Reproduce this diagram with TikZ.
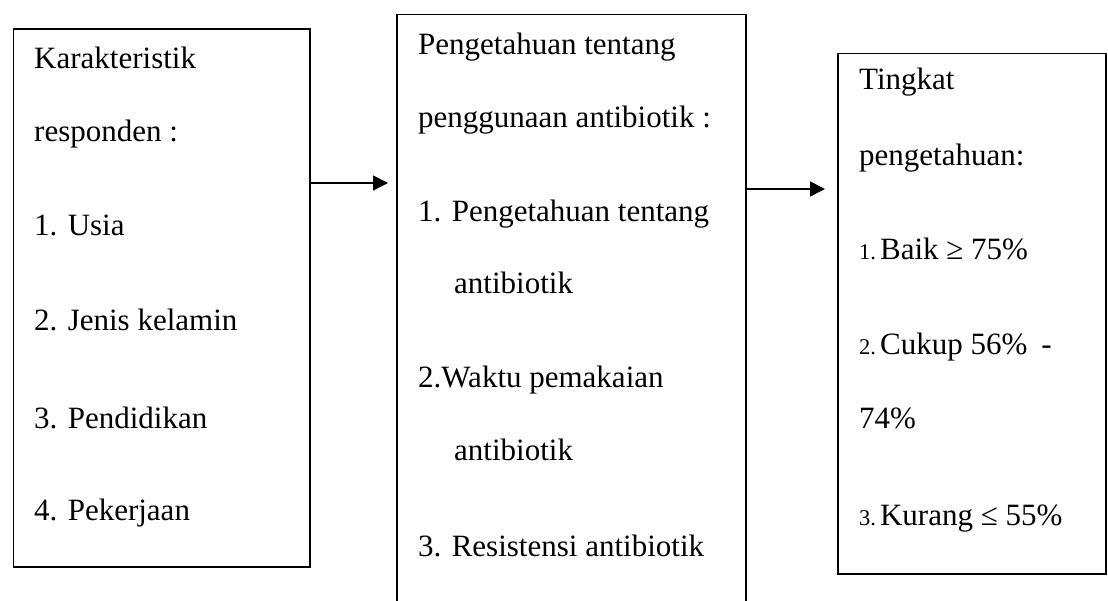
\documentclass[tikz,border=0pt]{standalone}
\usepackage{fontspec}
\setmainfont{Liberation Serif}
\usetikzlibrary{arrows.meta}
\tikzset{
  box/.style={draw=black, line width=1.5pt, fill=none, inner sep=0pt, anchor=north west},
  txt/.style={anchor=base west, inner sep=0pt, font=\fontsize{31}{31}\selectfont},
  arr/.style={line width=1.4pt, -{Triangle[length=15pt,width=15pt]}},
}
\newcommand{\smallnum}[1]{{\fontsize{22.5}{22.5}\selectfont #1}}
\begin{document}
\begin{tikzpicture}[x=1pt,y=-1pt]
\useasboundingbox (0,0) rectangle (1108,601);
\clip (0,0) rectangle (1108,601);
\fill[white] (0,0) rectangle (1108,601);
% boxes
\node[box, minimum width=296.5pt, minimum height=537.5pt] (b1) at (12.5,28.5) {};
\node[box, minimum width=349pt, minimum height=640pt] (b2) at (396,14) {};
\node[box, minimum width=268pt, minimum height=520pt] (b3) at (837,53) {};
% box 1 text
\node[txt] (t11) at (34,69) {Karakteristik};
\node[txt] (t12) at (34,142) {responden :};
\node[txt] (t13) at (34,236) {1. Usia};
\node[txt] (t14) at (34,331) {2. Jenis kelamin};
\node[txt] (t15) at (34,428) {3. Pendidikan};
\node[txt] (t16) at (34,520) {4. Pekerjaan};
% box 2 text
\node[txt] (t21) at (418,55) {Pengetahuan tentang};
\node[txt] (t22) at (418,128) {penggunaan antibiotik :};
\node[txt] (t23) at (418,222) {1. Pengetahuan tentang};
\node[txt] (t24) at (454,294) {antibiotik};
\node[txt] (t25) at (418,388) {2.Waktu pemakaian};
\node[txt] (t26) at (454,460) {antibiotik};
\node[txt] (t27) at (418,556) {3. Resistensi antibiotik};
% box 3 text
\node[txt] (t31) at (859,90) {Tingkat};
\node[txt] (t32) at (859,166) {pengetahuan:};
\node[txt] (t33) at (859,260) {\smallnum{1.}\hspace{4pt}Baik ≥ 75\%};
\node[txt] (t34) at (859,355) {\smallnum{2.}\hspace{4pt}Cukup 56\%\hspace{14pt}-};
\node[txt] (t35) at (859,428) {74\%};
\node[txt] (t36) at (859,525) {\smallnum{3.}\hspace{4pt}Kurang ≤ 55\%};
% arrows
\coordinate (a1) at (388,183);
\coordinate (a2) at (825,189);
\draw[arr] (b1.east |- a1) -- (a1);
\draw[arr] (b2.east |- a2) -- (a2);
\end{tikzpicture}
\end{document}
